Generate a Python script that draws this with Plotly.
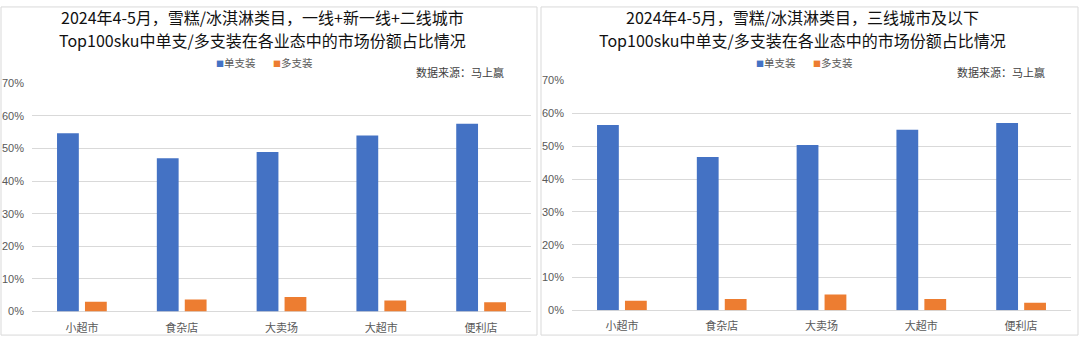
import plotly.graph_objects as go

W, H = 1080, 343

categories = ["小超市", "食杂店", "大卖场", "大超市", "便利店"]
series_names = ["单支装", "多支装"]
left_single = [0.547, 0.470, 0.489, 0.540, 0.576]
left_multi = [0.030, 0.037, 0.045, 0.034, 0.029]
right_single = [0.565, 0.467, 0.504, 0.550, 0.571]
right_multi = [0.029, 0.034, 0.048, 0.034, 0.023]
left_title_lines = ["2024年4-5月，雪糕/冰淇淋类目，一线+新一线+二线城市",
                    "Top100sku中单支/多支装在各业态中的市场份额占比情况"]
right_title_lines = ["2024年4-5月，雪糕/冰淇淋类目，三线城市及以下",
                     "Top100sku中单支/多支装在各业态中的市场份额占比情况"]
source_text = "数据来源：马上赢"
tick_vals = [0, 0.1, 0.2, 0.3, 0.4, 0.5, 0.6, 0.7]
tick_text = ["0%", "10%", "20%", "30%", "40%", "50%", "60%", "70%"]

colors = ["#4472C4", "#ED7D31"]
FONT = "Noto Sans CJK SC"

def px(x):
    return x / W

def py(y):
    return 1 - y / H

fig = go.Figure()

panels = [
    (left_single, left_multi, "x", "y", "legend"),
    (right_single, right_multi, "x2", "y2", "legend2"),
]
for single, multi, xa, ya, lg in panels:
    for vals, name, col in zip([single, multi], series_names, colors):
        fig.add_trace(go.Bar(x=categories, y=vals, name=name, marker_color=col,
                             marker_line_width=0, xaxis=xa, yaxis=ya, showlegend=False))
    for name, col in zip(series_names, colors):
        label = f"<span style='color:{col};font-size:8px'>■</span>{name}"
        fig.add_trace(go.Scatter(x=[None], y=[None], mode="markers", name=label,
                                 marker=dict(symbol="square", size=0.1, color="rgba(0,0,0,0)"),
                                 xaxis=xa, yaxis=ya, legend=lg, showlegend=True))
    # blank spacer entry so the last legend label is not clipped
    fig.add_trace(go.Scatter(x=[None], y=[None], mode="markers", name=" ",
                             marker=dict(size=0.1, color="rgba(0,0,0,0)"),
                             xaxis=xa, yaxis=ya, legend=lg, showlegend=True, hoverinfo="skip"))

axis_common = dict(showline=False, ticks="", ticklabelstandoff=8,
                   tickfont=dict(family=FONT, size=11, color="#595959"))
yaxis_common = dict(range=[0, 0.7], tickvals=tick_vals, ticktext=tick_text, showgrid=True,
                    gridcolor="#D9D9D9", gridwidth=1, zeroline=True, zerolinecolor="#D9D9D9",
                    zerolinewidth=1, ticks="", showline=False, ticklabelstandoff=7,
                    tickfont=dict(family="Liberation Sans", size=11, color="#595959"))

legend_common = dict(orientation="h", yanchor="middle", xanchor="left",
                     font=dict(family=FONT, size=10.5, color="#595959"),
                     bgcolor="rgba(0,0,0,0)", itemwidth=30, tracegroupgap=0,
                     entrywidth=12)

fig.update_layout(
    width=W, height=H,
    margin=dict(l=0, r=0, t=0, b=0),
    paper_bgcolor="white", plot_bgcolor="white",
    barmode="group", bargap=0.44, bargroupgap=0.22,
    font=dict(family=FONT, color="#595959"),
    xaxis=dict(domain=[px(32), px(531)], anchor="y", **axis_common),
    yaxis=dict(domain=[py(316.7), py(80)], anchor="x", **yaxis_common),
    xaxis2=dict(domain=[px(572), px(1071)], anchor="y2", **axis_common),
    yaxis2=dict(domain=[py(315.3), py(77.3)], anchor="x2", **yaxis_common),
    legend=dict(x=px(218 - 42), y=py(59), **legend_common),
    legend2=dict(x=px(758 - 42), y=py(59), **legend_common),
    showlegend=True,
)

for lines, cx in [(left_title_lines, 262), (right_title_lines, 802)]:
    for line, yy in zip(lines, [11, 35]):
        fig.add_annotation(text=line, xref="paper", yref="paper", x=px(cx), y=py(yy),
                           xanchor="center", yanchor="middle", showarrow=False,
                           font=dict(family=FONT, size=16, color="#111111"))
for xr in [506, 1047]:
    fig.add_annotation(text=source_text, xref="paper", yref="paper", x=px(xr), y=py(68),
                       xanchor="right", yanchor="middle", showarrow=False,
                       font=dict(family=FONT, size=11, color="#404040"))

for x0, x1 in [(1, 537), (541, 1078)]:
    fig.add_shape(type="rect", xref="paper", yref="paper", x0=px(x0), x1=px(x1),
                  y0=py(341), y1=py(1), line=dict(color="#D9D9D9", width=1))

fig.write_html("out.html")
